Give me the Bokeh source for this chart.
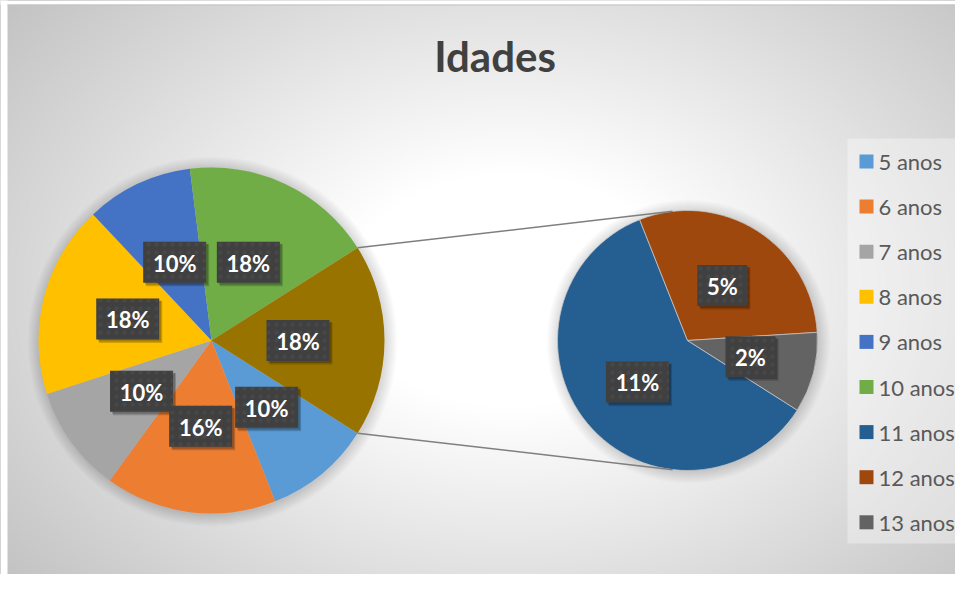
import numpy as np
from bokeh.plotting import figure
from bokeh.models import Range1d, ColumnDataSource
from bokeh.core.properties import value
from bokeh.embed import file_html
from bokeh.resources import INLINE

# ---------------- data ----------------
title_text = "Idades"
main_labels = ["5 anos", "6 anos", "7 anos", "8 anos", "9 anos", "10 anos"]
main_values = [10, 16, 10, 18, 10, 18]
main_colors = ["#5B9BD5", "#ED7D31", "#A5A5A5", "#FFC000", "#4472C4", "#70AD47"]
sub_labels = ["11 anos", "12 anos", "13 anos"]
sub_values = [10.8, 5.4, 1.8]
sub_colors = ["#255E91", "#9E480E", "#636363"]
other_color = "#997300"

# ---------------- geometry (1 data unit = 1 px; y up) ----------------
W, H = 955, 574
c1 = (211.0, 250.0); r1 = 173.0
c2 = (687.0, 250.0); r2 = 130.0

p = figure(width=W, height=H, x_range=Range1d(0, W), y_range=Range1d(590 - H, 590),
           output_backend="svg", toolbar_location=None, tools="", min_border=0,
           x_axis_type=None, y_axis_type=None)
p.grid.visible = False
p.outline_line_color = None
p.background_fill_color = "#c0c0c0"
p.border_fill_color = "#ffffff"

# ---------------- radial gradient background ----------------
gcx, gcy, grx, gry = 510.0, 300.0, 600.0, 420.0
levels = np.arange(192, 256)
t0, t1 = 0.28, 1.12
ts = t0 + (255 - levels) / (255 - levels.min()) * (t1 - t0)
order = np.argsort(-ts)
p.ellipse(x=[gcx] * len(levels), y=[gcy] * len(levels),
          width=list(2 * grx * ts[order]), height=list(2 * gry * ts[order]),
          fill_color=["#%02x%02x%02x" % (v, v, v) for v in levels[order]],
          line_color=None)
# white page strip outside the chart area (left / top)
p.rect(x=[3.5], y=[298], width=7, height=600, fill_color="white", line_color=None)
p.rect(x=[480], y=[588], width=1000, height=4, fill_color="white", line_color=None)
p.line(x=[7, 971], y=[585.5, 585.5], line_color="#c4c4c4", line_width=1)

# ---------------- soft shadows behind pies ----------------
for (cx, cy), r in ((c1, r1), (c2, r2)):
    rs = [r + k for k in range(1, 13)]
    p.circle(x=[cx + 1] * len(rs), y=[cy - 1] * len(rs), radius=rs[::-1],
             fill_color="black", fill_alpha=0.012, line_color=None)

total = sum(main_values) + sum(sub_values)
other = sum(sub_values)

# ---------------- main pie ----------------
a0 = -other / total * np.pi
starts, ends = [], []
a = a0
for v in main_values:
    a_next = a - v / total * 2 * np.pi
    starts.append(a_next); ends.append(a)
    a = a_next
main_src = ColumnDataSource(dict(start=starts, end=ends, color=main_colors,
                                 label=main_labels, val=main_values))
p.wedge(x=c1[0], y=c1[1], radius=r1, start_angle="start", end_angle="end",
        fill_color="color", line_color=None, source=main_src)
p.wedge(x=c1[0], y=c1[1], radius=r1, start_angle=a0, end_angle=-a0,
        fill_color=other_color, line_color=None)

# ---------------- secondary pie ----------------
s_starts, s_ends = [], []
a = a0
for v in sub_values:
    a_next = a - v / other * 2 * np.pi
    s_starts.append(a_next); s_ends.append(a)
    a = a_next
sub_src = ColumnDataSource(dict(start=s_starts, end=s_ends, color=sub_colors,
                                label=sub_labels, val=sub_values))
p.wedge(x=c2[0], y=c2[1], radius=r2, start_angle="start", end_angle="end",
        fill_color="color", line_color="#c8c8c8", line_width=0.75, source=sub_src)

# ---------------- connector lines (tangents) ----------------
for sgn in (1, -1):
    ang = -a0 * sgn
    px, py = c1[0] + r1 * np.cos(ang), c1[1] + r1 * np.sin(ang)
    vx, vy = px - c2[0], py - c2[1]
    d = np.hypot(vx, vy)
    phi = np.arctan2(vy, vx)
    alpha = np.arccos(r2 / d)
    tphi = phi - alpha if sgn == 1 else phi + alpha
    tx, ty = c2[0] + r2 * np.cos(tphi), c2[1] + r2 * np.sin(tphi)
    p.line(x=[px, tx], y=[py, ty], line_color="#7f7f7f", line_width=1.5)

# ---------------- data labels ----------------
lx, ly, lt = [], [], []
for s, e, v in zip(starts, ends, main_values):
    m = (s + e) / 2
    lx.append(c1[0] + 0.5 * r1 * np.cos(m)); ly.append(c1[1] + 0.5 * r1 * np.sin(m))
    lt.append(f"{v:.0f}%")
lx.append(c1[0] + 0.5 * r1); ly.append(c1[1]); lt.append(f"{other:.0f}%")
for s, e, v in zip(s_starts, s_ends, sub_values):
    m = (s + e) / 2
    lx.append(c2[0] + 0.5 * r2 * np.cos(m)); ly.append(c2[1] + 0.5 * r2 * np.sin(m))
    lt.append(f"{v:.0f}%")
bw = [24 + 13 * len(t) for t in lt]
lab_src = ColumnDataSource(dict(x=lx, y=ly, t=lt, w=bw,
                                xs1=[x + 3 for x in lx], ys1=[y - 3 for y in ly],
                                xs2=[x + 2 for x in lx], ys2=[y - 2 for y in ly],
                                ty=[y - 1 for y in ly]))
p.rect(x="xs1", y="ys1", width="w", height=42, source=lab_src,
       fill_color="black", fill_alpha=0.18, line_color=None)
p.rect(x="xs2", y="ys2", width="w", height=41, source=lab_src,
       fill_color="black", fill_alpha=0.2, line_color=None)
p.rect(x="x", y="y", width="w", height=41, source=lab_src,
       fill_color="#404040", line_color=None,
       hatch_pattern="dot", hatch_color="#4c4c4c", hatch_scale=8, hatch_weight=1.2,
       hatch_alpha=0.6)
p.text(x="x", y="ty", text="t", source=lab_src, text_font=value("Lato"),
       text_font_style="bold", text_font_size="22px", text_color="white",
       text_align="center", text_baseline="alphabetic")

# ---------------- title ----------------
p.text(x=[494.5], y=[590 - 70 + 15], text=[title_text], text_font=value("Lato"),
       text_font_style="bold", text_font_size="42px", text_color="#404040",
       text_align="center", text_baseline="alphabetic")

# ---------------- legend (manual) ----------------
leg_labels = main_labels + sub_labels
leg_colors = main_colors + sub_colors
p.rect(x=[906.5], y=[590 - 340.5], width=119, height=405,
       fill_color="white", fill_alpha=0.35, line_color=None)
iy = [590 - (161 + 45.1 * i) for i in range(len(leg_labels))]
p.rect(x=[866] * len(iy), y=iy, width=14, height=14, fill_color=leg_colors, line_color=None)
p.text(x=[878] * len(iy), y=[y + 0 for y in iy], text=leg_labels, text_font=value("Lato"),
       text_font_size="22px", text_color="#595959", text_align="left",
       text_baseline="alphabetic")

open("out.html", "w").write(file_html(p, INLINE))
